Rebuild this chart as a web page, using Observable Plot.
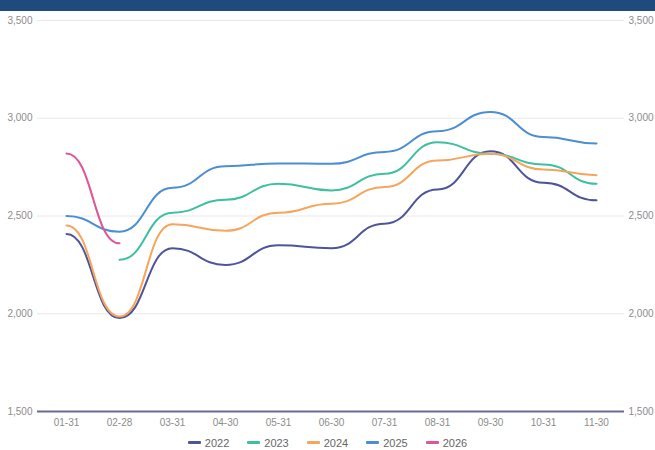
<!DOCTYPE html>
<html>
<head>
<meta charset="utf-8">
<script src="https://cdn.jsdelivr.net/npm/d3@7"></script>
<script src="https://cdn.jsdelivr.net/npm/@observablehq/plot@0.6"></script>
<style>
  html, body { margin: 0; padding: 0; background: #fff; }
  #bar { height: 11px; background: #1f4a7c; }
  #legend { height: 19px; display: flex; justify-content: center; align-items: center; gap: 0; font-family: "Liberation Sans", Arial, sans-serif; font-size: 11px; color: #666; padding-top: 2px; }
  .item { display: flex; align-items: center; margin: 0 9px; }
  .sw { width: 13px; height: 3px; border-radius: 1px; margin-right: 4px; }
</style>
</head>
<body>
<div id="bar"></div>
<div id="chart"></div>
<div id="legend"></div>
<script>
const months = ["01-31","02-28","03-31","04-30","05-31","06-30","07-31","08-31","09-30","10-31","11-30"];
const years = ["2022","2023","2024","2025","2026"];
const colors = ["#4f5499","#3dbfa0","#f5a55c","#4b8fd2","#de559a"];
const yTicks = [1500, 2000, 2500, 3000, 3500];

const s2022 = [2408, 1978, 2335, 2250, 2350, 2335, 2461, 2636, 2831, 2670, 2580];
const s2023 = [null, 2276, 2517, 2583, 2665, 2631, 2716, 2877, 2818, 2764, 2665];
const s2024 = [2452, 1986, 2458, 2424, 2517, 2563, 2648, 2784, 2818, 2738, 2709];
const s2025 = [2500, 2420, 2644, 2755, 2769, 2767, 2828, 2934, 3032, 2904, 2871];
const s2026 = [2820, 2360];

const series = [s2022, s2023, s2024, s2025, s2026];
const rows = [];
series.forEach((arr, i) => {
  arr.forEach((v, j) => {
    if (v != null) rows.push({month: months[j], year: years[i], value: v});
  });
});

const fmt = d3.format(",");
const chart = Plot.plot({
  width: 655,
  height: 420,
  marginLeft: 37,
  marginRight: 31,
  marginTop: 9,
  marginBottom: 20,
  style: {fontFamily: "'Liberation Sans', Arial, sans-serif", fontSize: "10px", color: "#8c8c8c", background: "#fff"},
  x: {type: "point", domain: months, padding: 0.5, label: null},
  y: {domain: [1500, 3500], label: null},
  color: {domain: years, range: colors},
  marks: [
    Plot.ruleY(yTicks.slice(1), {stroke: "#e8e8e8", strokeWidth: 1}),
    Plot.ruleY([1500], {stroke: "#676b8f", strokeWidth: 1.8}),
    Plot.axisY({anchor: "left", ticks: yTicks, tickSize: 0, tickPadding: 5, tickFormat: fmt, label: null}),
    Plot.axisY({anchor: "right", ticks: yTicks, tickSize: 0, tickPadding: 4, tickFormat: fmt, label: null}),
    Plot.axisX({tickSize: 0, tickPadding: 7, label: null}),
    Plot.line(rows, {x: "month", y: "value", z: "year", stroke: "year", curve: "bump-x", strokeWidth: 2})
  ]
});
document.getElementById("chart").appendChild(chart);

const legend = document.getElementById("legend");
years.forEach((y, i) => {
  const it = document.createElement("div");
  it.className = "item";
  const sw = document.createElement("span");
  sw.className = "sw";
  sw.style.background = colors[i];
  const t = document.createElement("span");
  t.textContent = y;
  it.appendChild(sw);
  it.appendChild(t);
  legend.appendChild(it);
});
</script>
</body>
</html>
